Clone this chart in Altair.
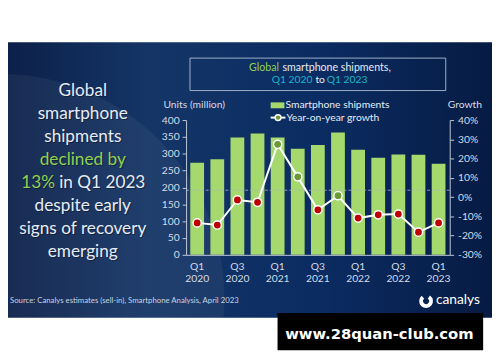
import altair as alt
import pandas as pd

# ---- data ----
quarters = ["Q1 2020", "Q2 2020", "Q3 2020", "Q4 2020", "Q1 2021", "Q2 2021", "Q3 2021",
            "Q4 2021", "Q1 2022", "Q2 2022", "Q3 2022", "Q4 2022", "Q1 2023"]
shipments = [273, 284, 348, 360, 348, 315, 326, 363, 312, 288, 298, 297, 270]
growth = [-13.4, -14.5, -1.5, -2.7, 27.4, 10.5, -6.6, 0.7, -10.9, -9.2, -8.8, -18.2, -13.4]

units_ticks = [0, 50, 100, 150, 200, 250, 300, 350, 400]
growth_ticks = [-30, -20, -10, 0, 10, 20, 30, 40]

headline_lines = ["Global", "smartphone", "shipments", "declined by", "13% in Q1 2023",
                  "despite early", "signs of recovery", "emerging"]

df = pd.DataFrame({"quarter": quarters, "units": shipments, "growth": growth})
one = pd.DataFrame({"a": [0]})

FONT = "Lato"
BAR = "#a5d86d"
POS = "#6a9a38"
NEG = "#c00000"
TXT = "#e6ecf5"
AX = "#d5dbe6"
GREEN_TXT = "#92d050"
TEAL = "#1fb5c9"

xscale = alt.Scale(paddingInner=0.315, paddingOuter=0.21)
xenc = alt.X("quarter:N", sort=quarters, scale=xscale,
             axis=alt.Axis(title=None, labelAngle=0, domain=True, domainColor="#bfc8d6",
                           ticks=False, labelPadding=7, labelColor=AX, labelFont=FONT,
                           labelFontSize=10.5, labelLineHeight=12, zindex=2,
                           labelExpr="test(/Q[13]/, datum.value) ? split(datum.value, ' ') : ''"))

# background panel with gradient
bg = alt.Chart(one).mark_rect(
    fill=alt.Gradient(gradient="linear",
                      stops=[alt.GradientStop(color="#0c1f48", offset=0),
                             alt.GradientStop(color="#143566", offset=0.3),
                             alt.GradientStop(color="#0b2c62", offset=0.65),
                             alt.GradientStop(color="#061b43", offset=1)],
                      x1=0, x2=1, y1=0, y2=0)
).encode(x=alt.value(-189), x2=alt.value(311), y=alt.value(-79), y2=alt.value(201))

glow = alt.Chart(one).mark_point(filled=True, shape="circle", color="white", opacity=0.05,
                                 size=4 * 228 * 228).encode(x=alt.value(-189), y=alt.value(181))

# title box
title_box = alt.Chart(one).mark_rect(fill="transparent", stroke="#9fb0c8", strokeWidth=1).encode(
    x=alt.value(4), x2=alt.value(264), y=alt.value(-63), y2=alt.value(-30))


def txt(s, x, y, color=TXT, size=10.5, align="left", weight="normal", font=FONT, opacity=1):
    return alt.Chart(one).mark_text(text=s, align=align, baseline="middle", color=color,
                                    fontSize=size, font=font, fontWeight=weight,
                                    opacity=opacity).encode(x=alt.value(x), y=alt.value(y))


title_parts = [
    txt("Global", 64, -53, GREEN_TXT, 10.8),
    txt("smartphone shipments,", 98, -53, TXT, 10.8),
    txt("Q1 2020", 87, -41, TEAL, 10.5),
    txt("to", 131.5, -41, TXT, 10.5),
    txt("Q1 2023", 143, -41, TEAL, 10.5),
]

axis_titles = [
    txt("Units (million)", -23, -15, AX, 10.5),
    txt("Growth", 266, -15, AX, 10.5),
]

leg_rect = alt.Chart(one).mark_rect(color=BAR).encode(
    x=alt.value(86), x2=alt.value(100), y=alt.value(-18), y2=alt.value(-12))
leg_line = alt.Chart(one).mark_rule(color="white", strokeWidth=2).encode(
    x=alt.value(86), x2=alt.value(101), y=alt.value(-2.5))
leg_pt = alt.Chart(one).mark_point(filled=True, shape="circle", color=POS, stroke="white",
                                   strokeWidth=1.5, size=36, opacity=1).encode(
    x=alt.value(93.5), y=alt.value(-2.5))
legend = [leg_rect, leg_line, leg_pt,
          txt("Smartphone shipments", 101, -15, TXT, 10.5),
          txt("Year-on-year growth", 102, -2.5, TXT, 10.5)]

# headline on the left
head_y = [-29.7, -5.7, 17.7, 40.3, 63.7, 87.7, 111, 134.3]
headline = []
for line, yy in zip(headline_lines, head_y):
    if line == "13% in Q1 2023":
        headline.append(txt("13%", -166.5, yy + 1, "#000000", 17.5, opacity=0.35))
        headline.append(txt("in Q1 2023", -128, yy + 1, "#000000", 17.5, opacity=0.35))
        headline.append(txt("13%", -167.5, yy, GREEN_TXT, 17.5))
        headline.append(txt("in Q1 2023", -129, yy, TXT, 17.5))
    else:
        col = GREEN_TXT if line == "declined by" else TXT
        headline.append(txt(line, -104, yy + 1, "#000000", 17.5, "center", opacity=0.35))
        headline.append(txt(line, -105, yy, col, 17.5, "center"))

# bars
bars = alt.Chart(df).mark_bar(color=BAR).encode(
    x=xenc,
    y=alt.Y("units:Q", scale=alt.Scale(domain=[0, 400], nice=False),
            axis=alt.Axis(title=None, values=units_ticks, grid=False, domainColor="#bfc8d6",
                          tickColor="#bfc8d6", tickSize=4, labelColor=AX, labelFont=FONT,
                          labelFontSize=10.5, labelPadding=3, zindex=2)))

zero_rule = alt.Chart(one).mark_rule(color="#aab6c8", strokeDash=[3, 2], strokeWidth=1,
                                     opacity=0.8).encode(
    x=alt.value(0), x2=alt.value(268), y=alt.value(71.3))

gscale = alt.Scale(domain=[-30, 40], nice=False)
gaxis = alt.Axis(title=None, orient="right", values=growth_ticks, grid=False,
                 domainColor="#bfc8d6", tickColor="#bfc8d6", tickSize=4,
                 labelColor=AX, labelFont=FONT, labelFontSize=10.5, labelPadding=4,
                 zindex=2, labelExpr="datum.value + '%'")
line = alt.Chart(df).mark_line(color="white", strokeWidth=2).encode(
    x=xenc, y=alt.Y("growth:Q", scale=gscale, axis=gaxis))
pts = alt.Chart(df).mark_point(filled=True, shape="circle", size=70, stroke="white",
                               strokeWidth=1.5, opacity=1).encode(
    x=xenc,
    y=alt.Y("growth:Q", scale=gscale, axis=gaxis),
    color=alt.condition(alt.datum.growth > 0, alt.value(POS), alt.value(NEG)))
growth_layer = alt.layer(line, pts)

source = txt("Source: Canalys estimates (sell-in), Smartphone Analysis, April 2023",
             -179, 183.7, "#c9d2e0", 7.9)
logo_icon = alt.Chart(one).mark_arc(color="white", radius=7, radius2=3, theta=0.6,
                                    theta2=5.6).encode(x=alt.value(244), y=alt.value(184))
logo_txt = txt("canalys", 254, 183, "#ffffff", 14)

wm_box = alt.Chart(one).mark_rect(color="#000000").encode(
    x=alt.value(93), x2=alt.value(302), y=alt.value(196), y2=alt.value(234))
wm_txt = txt("www.28quan-club.com", 196.5, 217.5, "#ffffff", 15, "center", "bold",
             font="DejaVu Sans")

chart = alt.layer(
    bg, glow, title_box, *title_parts, *axis_titles, *legend, *headline,
    bars, zero_rule, growth_layer, source, logo_icon, logo_txt, wm_box, wm_txt
).resolve_scale(y="independent").resolve_axis(y="independent").properties(
    width=268, height=137,
    padding={"left": 181, "top": 111, "right": 43, "bottom": 106},
    autosize=alt.AutoSizeParams(type="none"),
    background="white",
).configure_view(stroke=None)

chart.save("out.html", embed_options={"renderer": "svg", "actions": False})
